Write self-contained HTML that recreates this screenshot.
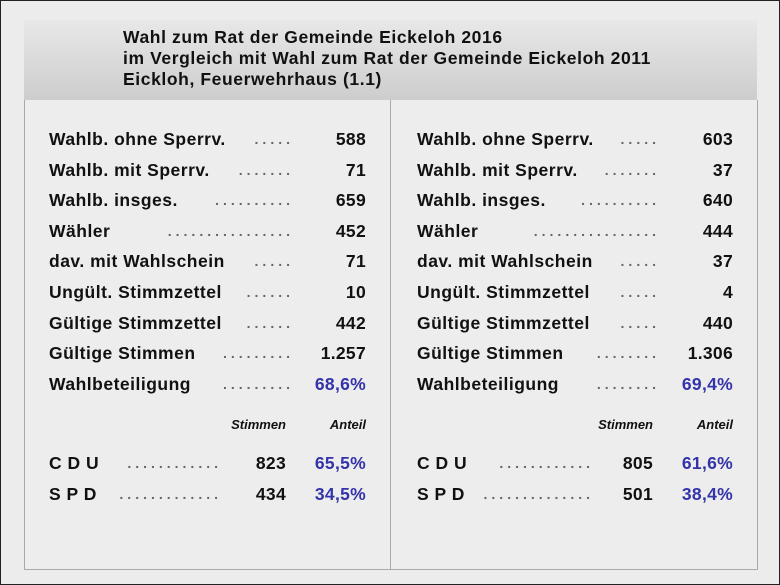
<!DOCTYPE html>
<html><head><meta charset="utf-8"><style>
body{margin:0;width:780px;height:585px;overflow:hidden;background:#fff;font-family:"Liberation Sans",Arial,sans-serif}
#frame{position:absolute;left:0;top:0;width:778px;height:583px;border:1px solid #222;background:#ececec}
#header{position:absolute;left:24px;top:20px;width:733px;height:80px;background:linear-gradient(#e8e8e8,#cdcdcd);}
#header div{position:absolute;left:99px;font-weight:bold;font-size:17.5px;letter-spacing:0.6px;color:#111;line-height:20px;white-space:nowrap}
#panel{position:absolute;left:24px;top:100px;width:732px;height:469px;border:1px solid #aaa;border-top:none;background:#ededed}
#divider{position:absolute;left:390px;top:100px;width:1px;height:470px;background:#aaa}
.t{position:absolute;font-weight:bold;font-size:17.5px;letter-spacing:0.5px;color:#111;white-space:nowrap;line-height:20px}
.d{position:absolute;font-size:14px;color:#666;font-weight:bold;letter-spacing:4px;white-space:nowrap;line-height:20px;text-align:right;width:200px}
.r{text-align:right;width:100px;letter-spacing:0.3px}
.b{color:#3333aa}
.h{position:absolute;font-weight:bold;font-style:italic;font-size:13px;color:#111;text-align:right;width:100px}
</style></head><body>
<div id="frame"></div>
<div id="header">
<div style="top:7px">Wahl zum Rat der Gemeinde Eickeloh 2016</div>
<div style="top:28px">im Vergleich mit Wahl zum Rat der Gemeinde Eickeloh 2011</div>
<div style="top:49px">Eickloh, Feuerwehrhaus (1.1)</div>
</div>
<div id="panel"></div>
<div id="divider"></div>
<div id="content"></div>
<script>
const labels=["Wahlb. ohne Sperrv.","Wahlb. mit Sperrv.","Wahlb. insges.","Wähler","dav. mit Wahlschein","Ungült. Stimmzettel","Gültige Stimmzettel","Gültige Stimmen","Wahlbeteiligung"];
const dotsL=[".....",".......","..........","................",".....","......","......",".........","........."];
const dotsR=[".....",".......","..........","................",".....",".....",".....","........","........"];
const vals2016=["588","71","659","452","71","10","442","1.257","68,6%"];
const vals2011=["603","37","640","444","37","4","440","1.306","69,4%"];
const parties=["C D U","S P D"];
const votes2016=["823","434"];
const share2016=["65,5%","34,5%"];
const votes2011=["805","501"];
const share2011=["61,6%","38,4%"];
const c=document.getElementById('content');
function add(cls,x,y,txt,name){const e=document.createElement('div');e.className=cls;e.style.left=x+'px';e.style.top=y+'px';e.textContent=txt;


c.appendChild(e);return e;}
labels.forEach((l,i)=>{const y=129+i*30.6;
add('t',49,y,l,'label-2016');add('t',417,y,l,'label-2011');
add('d',94,y,dotsL[i],'leader-dots');add('d',460,y,dotsR[i],'leader-dots');
add('t r'+(i==8?' b':''),266,y,vals2016[i],'value-2016');add('t r'+(i==8?' b':''),633,y,vals2011[i],'value-2011');});
add('h',186,417,'Stimmen','stimmen-header');add('h',266,417,'Anteil','anteil-header');
add('h',553,417,'Stimmen','stimmen-header');add('h',633,417,'Anteil','anteil-header');
parties.forEach((p,i)=>{const y=453+i*30.6;
add('t',49,y,p,'party-label');add('t',417,y,p,'party-label');
add('d',22,y,i?".............":"............",'leader-dots');add('d',394,y,i?"..............":"............",'leader-dots');
add('t r',186,y,votes2016[i],'votes-2016');add('t r b',266,y,share2016[i],'share-2016');
add('t r',553,y,votes2011[i],'votes-2011');add('t r b',633,y,share2011[i],'share-2011');});
</script>
</body></html>
